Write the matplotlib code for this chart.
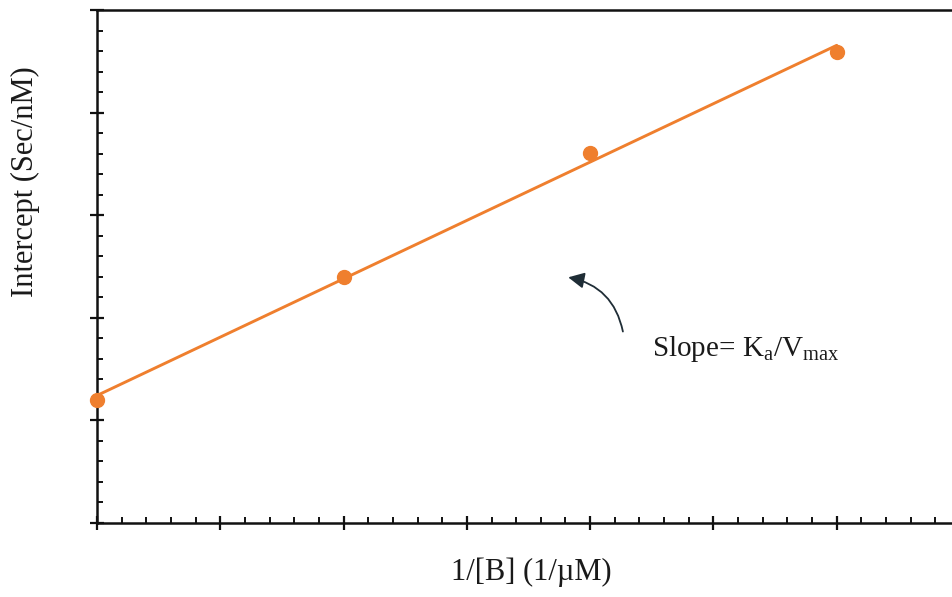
import numpy as np
from matplotlib import pyplot as plt
from matplotlib.ticker import MultipleLocator

# Lineweaver-Burk secondary plot: intercept vs 1/[B]
inv_b = [0, 2, 4, 6]
intercept = [1.20, 2.40, 3.61, 4.59]

x_label = "1/[B] (1/\u00b5M)"
y_label = "Intercept (Sec/nM)"
slope_text = r"Slope= K$_\mathregular{a}$/V$_\mathregular{max}$"

orange = "#ef7f2e"

plt.rcParams['font.family'] = ['Liberation Serif', 'DejaVu Serif']
plt.rcParams['mathtext.fontset'] = 'custom'
plt.rcParams['mathtext.rm'] = 'Liberation Serif'

fig = plt.figure(figsize=(9.52, 5.97), dpi=100)
# right spine sits just past the edge of the picture, as in the original
ax = fig.add_axes([0.1019, 0.124, 0.9065, 0.859])

# linear fit through the points
coef = np.polyfit(inv_b, intercept, 1)
xs = np.array([inv_b[0], inv_b[-1]])
ax.plot(xs, np.polyval(coef, xs), color=orange, lw=2.1, solid_capstyle='round', zorder=2)
ax.plot(inv_b, intercept, 'o', color=orange, ms=10, zorder=3, clip_on=False)

ax.set_xlim(0, 7)
ax.set_ylim(0, 5)
ax.xaxis.set_major_locator(MultipleLocator(1))
ax.xaxis.set_minor_locator(MultipleLocator(0.2))
ax.yaxis.set_major_locator(MultipleLocator(1))
ax.yaxis.set_minor_locator(MultipleLocator(0.2))
ax.tick_params(which='major', direction='inout', length=10, width=1.6, color='#111111')
ax.tick_params(which='minor', direction='in', length=4.5, width=1.4, color='#111111')
ax.tick_params(which='both', labelbottom=False, labelleft=False)

for side in ['left', 'bottom', 'top', 'right']:
    ax.spines[side].set_linewidth(1.8)
    ax.spines[side].set_color('#111111')

ax.set_xlabel(x_label, fontsize=22, color='#1a1a1a')
ax.xaxis.set_label_coords(0.503, -0.068)
ax.set_ylabel(y_label, fontsize=22, color='#1a1a1a')
ax.yaxis.set_label_coords(-0.066, 0.665)

ax.annotate("", xy=(3.80, 2.40), xytext=(4.27, 1.84),
            arrowprops=dict(arrowstyle='-|>', color='#1f2d36', lw=1.3,
                            mutation_scale=24,
                            connectionstyle='arc3,rad=0.35'))
ax.text(4.5, 1.63, slope_text, fontsize=21, color='#1a1a1a', va='baseline')

fig.savefig('out.png', dpi=100)
